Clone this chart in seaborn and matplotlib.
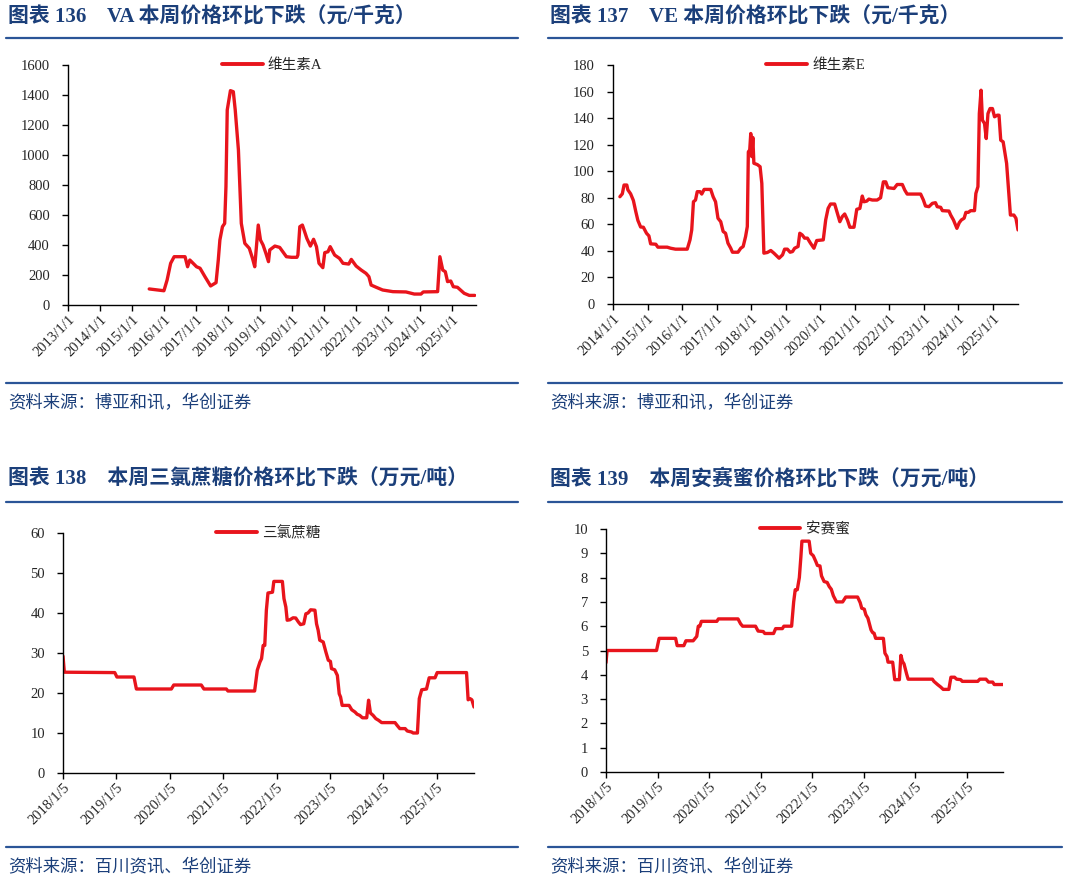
import matplotlib
matplotlib.use("Agg")
import matplotlib.pyplot as plt
from matplotlib.lines import Line2D
import pandas as pd
import seaborn as sns

# ---- data (x in decimal years) ----
va_x = [2015.54, 2016.00, 2016.10, 2016.21, 2016.32, 2016.66, 2016.74, 2016.81, 2017.02, 2017.13,
        2017.28, 2017.46, 2017.63, 2017.70, 2017.75, 2017.83, 2017.90, 2017.94, 2017.98, 2018.08,
        2018.17, 2018.23, 2018.33, 2018.42, 2018.53, 2018.67, 2018.77, 2018.84, 2018.95, 2019.02,
        2019.10, 2019.19, 2019.27, 2019.31, 2019.47, 2019.62, 2019.83, 2019.99, 2020.16, 2020.19,
        2020.25, 2020.33, 2020.40, 2020.47, 2020.58, 2020.68, 2020.77, 2020.85, 2020.97, 2021.03,
        2021.13, 2021.20, 2021.34, 2021.49, 2021.60, 2021.78, 2021.86, 2022.01, 2022.17, 2022.32,
        2022.41, 2022.48, 2022.64, 2022.84, 2023.16, 2023.57, 2023.83, 2024.04, 2024.11, 2024.56,
        2024.63, 2024.72, 2024.80, 2024.87, 2024.97, 2025.05, 2025.18, 2025.39, 2025.55, 2025.72]
va_y = [107, 95, 167, 278, 322, 322, 255, 300, 255, 245,
        190, 127, 149, 300, 433, 522, 544, 789, 1300, 1429,
        1422, 1300, 1033, 544, 411, 378, 311, 255, 533, 433,
        400, 344, 289, 367, 393, 384, 322, 318, 318, 333,
        522, 533, 489, 444, 393, 438, 389, 278, 249, 349,
        355, 389, 333, 311, 278, 273, 304, 260, 233, 211,
        189, 133, 118, 100, 89, 87, 73, 73, 87, 89,
        322, 233, 222, 156, 160, 122, 118, 78, 64, 64]

ve_x = [2014.20, 2014.27, 2014.32, 2014.40, 2014.43, 2014.51, 2014.59, 2014.66, 2014.72, 2014.80,
        2014.88, 2014.97, 2015.04, 2015.09, 2015.24, 2015.30, 2015.57, 2015.67, 2015.81, 2016.15,
        2016.23, 2016.28, 2016.33, 2016.39, 2016.44, 2016.52, 2016.57, 2016.64, 2016.83, 2016.90,
        2016.97, 2017.04, 2017.12, 2017.19, 2017.26, 2017.33, 2017.41, 2017.46, 2017.62, 2017.70,
        2017.77, 2017.84, 2017.89, 2017.92, 2017.96, 2017.99, 2018.02, 2018.05, 2018.08, 2018.18,
        2018.26, 2018.31, 2018.37, 2018.47, 2018.57, 2018.66, 2018.81, 2018.91, 2018.97, 2019.05,
        2019.13, 2019.20, 2019.26, 2019.36, 2019.41, 2019.48, 2019.55, 2019.63, 2019.72, 2019.82,
        2019.90, 2020.09, 2020.16, 2020.23, 2020.30, 2020.42, 2020.50, 2020.57, 2020.64, 2020.71,
        2020.79, 2020.86, 2020.98, 2021.06, 2021.15, 2021.22, 2021.27, 2021.35, 2021.41, 2021.51,
        2021.65, 2021.75, 2021.83, 2021.90, 2021.96, 2022.14, 2022.23, 2022.38, 2022.45, 2022.52,
        2022.91, 2022.99, 2023.05, 2023.15, 2023.25, 2023.34, 2023.39, 2023.49, 2023.54, 2023.73,
        2023.78, 2023.86, 2023.96, 2024.03, 2024.09, 2024.17, 2024.22, 2024.29, 2024.36, 2024.47,
        2024.51, 2024.57, 2024.61, 2024.66, 2024.70, 2024.76, 2024.81, 2024.86, 2024.92, 2024.99,
        2025.05, 2025.13, 2025.18, 2025.23, 2025.30, 2025.40, 2025.47, 2025.51, 2025.61, 2025.67,
        2025.73]
ve_y = [80.8, 83, 89.6, 89.6, 86, 83, 78, 69.6, 63, 58,
        57.8, 53.3, 51.3, 45.3, 45, 42.8, 42.8, 42, 41.3, 41.3,
        48.3, 55.8, 77, 78.3, 84.6, 84.6, 82.8, 86.3, 86.3, 80.8,
        77, 64.6, 62, 54.6, 53.3, 45.8, 42, 39, 39, 42,
        43.3, 50.8, 58.3, 114.6, 116, 128.4, 111, 125.4, 106, 105,
        103.4, 90.9, 38.3, 38.8, 40.3, 38.3, 34.5, 37, 41.3, 41.3,
        39, 39.5, 42, 43.3, 53.3, 52, 49.6, 49.6, 45.8, 42,
        47.8, 48.3, 63.3, 72, 75.3, 75.3, 68.3, 62, 65.8, 67.8,
        63.3, 57.8, 57.8, 71.3, 72, 81.3, 77, 77.5, 79, 78.3,
        78.3, 80, 92, 92, 87.6, 87, 90, 90, 85.8, 82.8,
        82.8, 78.3, 73.8, 73.3, 75.8, 76.3, 73.3, 72.8, 70.3, 70,
        67, 63.3, 57, 61.3, 63.3, 64.6, 69, 69, 70.3, 70.3,
        83.3, 88.4, 143.4, 161, 138.4, 136, 124.6, 143.4, 147.2, 147.2,
        141, 142.2, 142.2, 123.4, 122.1, 105.9, 80.8, 67, 67, 64.6,
        55.8]

# years elapsed since 2018/1/5
sucralose_t = [0, 0.025, 0.97, 1.01, 1.33, 1.375, 2.03, 2.075, 2.59, 2.64,
               3.06, 3.09, 3.59, 3.64, 3.69, 3.72, 3.75, 3.78, 3.81, 3.84,
               3.925, 3.95, 4.11, 4.14, 4.175, 4.2, 4.25, 4.31, 4.36, 4.41,
               4.45, 4.51, 4.55, 4.59, 4.64, 4.72, 4.75, 4.78, 4.81, 4.875,
               4.925, 4.97, 5.01, 5.03, 5.09, 5.14, 5.175, 5.2, 5.23, 5.36,
               5.41, 5.47, 5.51, 5.56, 5.61, 5.69, 5.725, 5.76, 5.81, 5.86,
               5.91, 5.97, 6.22, 6.26, 6.31, 6.41, 6.45, 6.53, 6.56, 6.64,
               6.675, 6.72, 6.81, 6.86, 6.97, 7.01, 7.56, 7.59, 7.625, 7.66,
               7.7]
sucralose_y = [29.2, 25.2, 25.1, 24, 24, 21, 21, 22, 22, 21,
               21, 20.5, 20.5, 25.7, 27.75, 28.6, 31.9, 31.9, 40.7, 45,
               45.2, 47.9, 47.9, 43.6, 41.5, 38.2, 38.3, 38.8, 38.75, 37.75,
               37.1, 37.3, 39.8, 40, 40.8, 40.7, 37.3, 35.7, 33.2, 32.75,
               30.25, 28.2, 27.9, 26.1, 25.8, 24.4, 19.8, 19, 16.9, 16.9,
               15.8, 15.25, 14.7, 14.4, 13.8, 13.8, 18.2, 15, 14.4, 13.6,
               13.2, 12.6, 12.6, 11.9, 11.1, 11.1, 10.5, 10.25, 10, 10,
               18.6, 20.8, 21, 23.8, 23.8, 25.1, 25.1, 18.3, 18.6, 18.3,
               16.5]

ak_t = [0, 0.02, 0.98, 1.03, 1.35, 1.38, 1.51, 1.55, 1.69, 1.76,
        1.79, 1.82, 1.85, 2.15, 2.18, 2.56, 2.61, 2.65, 2.90, 2.95,
        3.05, 3.08, 3.25, 3.29, 3.42, 3.45, 3.60, 3.64, 3.67, 3.71,
        3.75, 3.78, 3.80, 3.94, 3.97, 4.02, 4.07, 4.10, 4.15, 4.18,
        4.23, 4.29, 4.33, 4.37, 4.41, 4.47, 4.59, 4.65, 4.88, 4.93,
        4.96, 5.01, 5.04, 5.08, 5.14, 5.17, 5.20, 5.23, 5.38, 5.41,
        5.45, 5.47, 5.56, 5.60, 5.69, 5.72, 5.75, 5.78, 5.83, 5.86,
        6.33, 6.36, 6.43, 6.49, 6.54, 6.65, 6.69, 6.76, 6.80, 6.88,
        6.91, 7.21, 7.25, 7.37, 7.42, 7.50, 7.53, 7.70]
ak_y = [4.5, 5.0, 5.0, 5.5, 5.5, 5.2, 5.2, 5.4, 5.4, 5.58,
        6.0, 6.0, 6.2, 6.2, 6.3, 6.3, 6.1, 6.0, 6.0, 5.8,
        5.78, 5.7, 5.7, 5.9, 5.9, 6.0, 6.0, 7.0, 7.5, 7.5,
        8.0, 8.86, 9.5, 9.5, 9.0, 8.9, 8.66, 8.5, 8.48, 8.07,
        7.84, 7.8, 7.63, 7.52, 7.25, 7.0, 7.0, 7.2, 7.2, 6.97,
        6.74, 6.7, 6.47, 6.33, 5.85, 5.74, 5.71, 5.5, 5.5, 4.89,
        4.75, 4.52, 4.52, 3.8, 3.8, 4.8, 4.55, 4.45, 4.04, 3.82,
        3.82, 3.73, 3.6, 3.5, 3.4, 3.4, 3.9, 3.9, 3.82, 3.8,
        3.73, 3.73, 3.82, 3.82, 3.7, 3.7, 3.6, 3.6]

titles = ["图表 136    VA 本周价格环比下跌（元/千克）",
          "图表 137    VE 本周价格环比下跌（元/千克）",
          "图表 138    本周三氯蔗糖价格环比下跌（万元/吨）",
          "图表 139    本周安赛蜜价格环比下跌（万元/吨）"]
sources = ["资料来源：博亚和讯，华创证券", "资料来源：博亚和讯，华创证券",
           "资料来源：百川资讯、华创证券", "资料来源：百川资讯、华创证券"]

RED = "#E8141C"
TITLE_BLUE = "#1B3F7A"
RULE_BLUE = "#2B5597"
W, H = 1068, 882

sns.set_theme(style="ticks")
plt.rcParams["font.family"] = ["Liberation Serif", "Noto Sans CJK SC", "DejaVu Sans"]
plt.rcParams["axes.unicode_minus"] = False

fig = plt.figure(figsize=(W / 100, H / 100), dpi=100)
fig.patch.set_facecolor("white")


def make_ax(left, right, top, bottom):
    return fig.add_axes([left / W, 1 - bottom / H, (right - left) / W, (bottom - top) / H])


def style_ax(ax, ymax, ystep, xticks, xlabels, xlim, label):
    ax.set_ylim(0, ymax)
    ax.set_yticks([ystep * i for i in range(int(round(ymax / ystep)) + 1)])
    ax.set_xlim(*xlim)
    ax.set_xticks(xticks)
    ax.set_xticklabels(xlabels, rotation=45, ha="right", rotation_mode="anchor")
    ax.set_xlabel("")
    ax.set_ylabel("")
    ax.tick_params(axis="both", labelsize=10.5, length=4, width=1, color="black", direction="out",
                   pad=2)
    ax.tick_params(axis="y", pad=9)
    for s in ["top", "right"]:
        ax.spines[s].set_visible(False)
    for s in ["left", "bottom"]:
        ax.spines[s].set_color("black")
        ax.spines[s].set_linewidth(1)
    ax.grid(False)
    leg = ax.legend([label], loc="center", bbox_to_anchor=(0.5, 1.0), frameon=False,
                    fontsize=10.5, handlelength=2.8, handletextpad=0.35)
    for h in leg.get_lines():
        h.set_linewidth(2.8)


# panel 1 VA
ax1 = make_ax(68, 476, 65, 305)
sns.lineplot(x=va_x, y=va_y, ax=ax1, color=RED, linewidth=2.4, estimator=None, sort=False)
yrs = list(range(2013, 2026))
style_ax(ax1, 1600, 200, yrs, [f"{y}/1/1" for y in yrs], (2013, 2025.76), "维生素A")

# panel 2 VE
ax2 = make_ax(613, 1018, 65, 304)
sns.lineplot(x=ve_x, y=ve_y, ax=ax2, color=RED, linewidth=2.4, estimator=None, sort=False)
yrs = list(range(2014, 2026))
style_ax(ax2, 180, 20, yrs, [f"{y}/1/1" for y in yrs], (2014, 2025.73), "维生素E")

# panel 3 三氯蔗糖
ax3 = make_ax(63, 474, 533, 773)
sns.lineplot(x=sucralose_t, y=sucralose_y, ax=ax3, color=RED, linewidth=2.4, estimator=None,
             sort=False)
yrs = list(range(2018, 2026))
style_ax(ax3, 60, 10, [y - 2018 for y in yrs], [f"{y}/1/5" for y in yrs], (0, 7.7), "三氯蔗糖")

# panel 4 安赛蜜
ax4 = make_ax(606, 1003, 529, 772)
sns.lineplot(x=ak_t, y=ak_y, ax=ax4, color=RED, linewidth=2.4, estimator=None, sort=False)
style_ax(ax4, 10, 1, [y - 2018 for y in yrs], [f"{y}/1/5" for y in yrs], (0, 7.7), "安赛蜜")

# titles, rules and sources
panels = [
    # title x, title y, rule x0, rule x1, rule y top, rule y bottom, source y
    (8, 17, 6, 518, 38, 383, 404),
    (550, 17, 548, 1062, 38, 383, 404),
    (8, 479, 6, 518, 502, 847, 867),
    (550, 479, 548, 1062, 502, 847, 867),
]
for (tx, ty, r0, r1, ry1, ry2, sy), title, src in zip(panels, titles, sources):
    fig.text(tx / W, 1 - ty / H, title, fontsize=15, fontweight="bold", color=TITLE_BLUE,
             va="center", ha="left")
    for ry in (ry1, ry2):
        fig.add_artist(Line2D([r0 / W, r1 / W], [1 - ry / H, 1 - ry / H], color=RULE_BLUE,
                              linewidth=1.6, transform=fig.transFigure))
    fig.text(tx / W, 1 - sy / H, src, fontsize=12.5, color=TITLE_BLUE, va="center", ha="left",
             style="italic")

fig.savefig("out.png", dpi=100, facecolor="white")
